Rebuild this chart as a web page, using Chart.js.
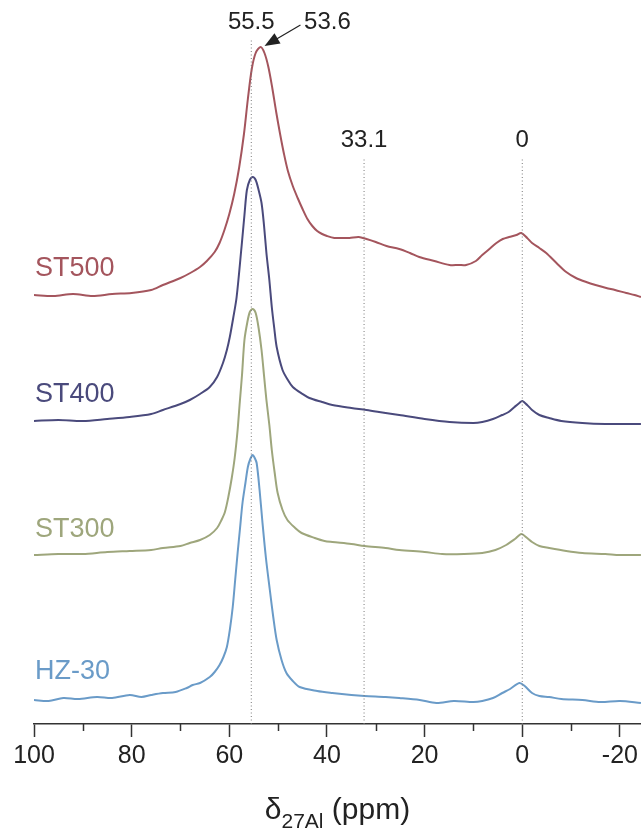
<!DOCTYPE html>
<html>
<head>
<meta charset="utf-8">
<script src="https://cdn.jsdelivr.net/npm/chart.js@4.4.1/dist/chart.umd.min.js"></script>
<style>
    html, body { margin: 0; padding: 0; background: #fff; }
    #wrap { width: 642px; height: 830px; position: relative; }
</style>
</head>
<body>
<div id="wrap"><canvas id="nmr"></canvas></div>
<script>
// ================= DATA =================
// chemical shift (ppm) and stacked intensity (arbitrary units, offsets included)

const st500Ppm = [100, 96, 92, 88, 84, 80, 76, 73.6, 70, 68, 66, 64.6, 63, 62, 61, 60, 59, 58, 57, 56.2, 55.4, 54.6, 53.6, 52.8, 52, 51.2, 50.4, 49.6, 48.8, 48, 47, 46, 45, 44, 43, 42, 41, 40, 38.5, 37, 35.4, 33.5, 31.9, 30, 27.8, 25.2, 23, 21.1, 18, 14.9, 13, 11.5, 9.5, 8.2, 6.5, 5.3, 4, 2.7, 1.2, 0.2, -1, -2, -3.5, -4.9, -7, -9, -11, -13.1, -15, -17.2, -19, -21.3, -23, -24.3];
const st500Val = [429, 428, 430, 428, 430, 431, 434, 439, 446, 451, 457, 463, 472, 481, 494, 510, 530, 556, 590, 625, 655, 671, 677, 671, 657, 636, 612, 590, 570, 553, 538, 526, 515, 505, 498, 493, 490, 488, 486, 486, 486, 487, 485, 482, 478, 475, 471, 467, 463, 459, 459, 459, 463, 469, 476, 481, 485, 487, 489, 491, 486, 481, 476, 471, 461, 452, 446, 442, 439, 436, 434, 431, 429, 427];

const st400Ppm = [100, 95, 90, 85, 80.4, 76, 73.6, 70, 68.1, 66, 64, 62.5, 61.3, 60.5, 59.9, 59.2, 58.5, 57.5, 56.9, 56.4, 55.8, 55.2, 54.6, 54, 53.4, 52.9, 52.4, 51.8, 51.3, 50.8, 50.3, 49.1, 48, 47, 45, 43.6, 41, 38.9, 35, 31.9, 28, 25.2, 20, 14.9, 10, 8.2, 6, 4.1, 2.8, 1.6, 0.6, 0, -1, -2, -3.5, -5.5, -8, -12.3, -17, -22.5, -24.3];
const st400Val = [303, 304, 303, 305, 307, 310, 314, 320, 324, 330, 337, 347, 361, 374, 387, 406, 427, 477, 509, 534, 544, 547, 544, 534, 521, 499, 471, 444, 417, 396, 377, 354, 344, 337, 330, 326, 322, 319, 316, 314, 311, 309, 305, 302, 301, 302, 305, 309, 312, 317, 321, 323, 319, 314, 309, 306, 303, 301, 300, 300, 300];

const st300Ppm = [100, 95, 90, 85, 80.4, 76, 73.6, 70, 68.1, 66, 64, 62.5, 61.6, 60.9, 60.2, 59.5, 58.9, 58.3, 57.9, 57.4, 56.9, 56.3, 55.8, 55.2, 54.6, 54, 53.4, 52.9, 52.4, 51.8, 51.3, 50.7, 50.1, 49.1, 48.1, 46.5, 45.2, 42.5, 40.5, 38.9, 35, 32.3, 28, 25.2, 20, 16.4, 12, 8.2, 5.5, 3.3, 1.5, 0.2, -1, -2, -3.5, -5.5, -9, -12.3, -17, -20, -24.3];
const st300Val = [169, 170, 170, 172, 173, 174, 176, 178, 181, 184, 189, 196, 204, 212, 227, 246, 266, 294, 319, 349, 384, 402, 412, 415, 411, 396, 374, 349, 324, 299, 274, 251, 231, 214, 204, 196, 191, 186, 183, 182, 180, 178, 176, 174, 172, 170, 170, 171, 174, 179, 185, 190, 186, 182, 178, 176, 173, 171, 170, 169, 169];

const hz30Ppm = [100, 97, 94, 91, 87.1, 84, 80.4, 78, 76, 73.6, 71, 68.7, 67.5, 66, 64, 63, 62, 61.2, 60.5, 59.9, 59.3, 58.8, 58.3, 57.8, 57.3, 56.7, 56.2, 55.7, 55.2, 54.8, 54.4, 53.8, 53.2, 52.5, 51.7, 51, 50.3, 49.3, 48.3, 47, 45.6, 42, 38.9, 35, 32.3, 28, 25.2, 21, 17.6, 14, 10, 8.2, 6, 4.1, 2.5, 0.6, -0.5, -2, -3.5, -5.5, -8, -12.3, -16, -20, -24.3];
const hz30Val = [24, 23, 26, 25, 27, 26, 29, 27, 29, 31, 32, 36, 39, 41, 47, 52, 59, 67, 77, 94, 117, 144, 171, 196, 221, 241, 257, 265, 269, 266, 261, 234, 201, 166, 134, 107, 84, 64, 51, 43, 37, 33, 31, 29, 28, 27, 26, 24, 21, 23, 22, 23, 26, 31, 35, 41, 38, 31, 28, 27, 25, 24, 22, 23, 21];

const seriesNames  = ["ST500", "ST400", "ST300", "HZ-30"];
const seriesColors = ["#a4555d", "#4a4a7c", "#9ea67c", "#6a9bc8"];
const nameLevels   = [455, 329, 194, 52];

// dotted reference lines: label, position (ppm), top of line (intensity units)
const refLabels = ["55.5", "33.1", "0"];
const refPpm    = [55.5, 32.4, 0];
const refTop    = [684, 566, 566];

const xTicks = [100, 80, 60, 40, 20, 0, -20];

// ================= HELPERS =================

function pts(xs, ys)
{
    return xs.map((x, i) => ({ x: x, y: ys[i] }));
}

const FONT = "'Liberation Sans', Arial, sans-serif";

const datasets = [];

refPpm.forEach((p, i) => {
    datasets.push({
        data: [{ x: p, y: 0 }, { x: p, y: refTop[i] }],
        borderColor: "#7a7a7a",
        borderWidth: 1,
        borderDash: [1, 2.5],
        pointRadius: 0
    });
});

[[st500Ppm, st500Val], [st400Ppm, st400Val], [st300Ppm, st300Val], [hz30Ppm, hz30Val]].forEach((s, i) => {
    datasets.push({
        label: seriesNames[i],
        data: pts(s[0], s[1]),
        borderColor: seriesColors[i],
        borderWidth: 2,
        pointRadius: 0,
        tension: 0.3
    });
});

// ================= ANNOTATIONS =================

const extras = {
    id: "extras",
    afterDraw(chart)
    {
        const ctx = chart.ctx;
        const sx = chart.scales.x;
        const sy = chart.scales.y;
        const axisY = chart.chartArea.bottom;

        ctx.save();

        // minor ticks
        ctx.strokeStyle = "#333";
        ctx.lineWidth = 1.5;
        for (let v = 90; v >= -20; v -= 20)
        {
            const px = Math.round(sx.getPixelForValue(v)) + 0.5;
            ctx.beginPath();
            ctx.moveTo(px, axisY);
            ctx.lineTo(px, axisY + 7);
            ctx.stroke();
        }

        // series names
        ctx.font = "27px " + FONT;
        ctx.textBaseline = "middle";
        ctx.textAlign = "left";
        seriesNames.forEach((n, i) => {
            ctx.fillStyle = seriesColors[i];
            ctx.fillText(n, sx.getPixelForValue(100) + 1, sy.getPixelForValue(nameLevels[i]));
        });

        // reference labels
        ctx.fillStyle = "#222";
        ctx.font = "24px " + FONT;
        ctx.textAlign = "center";
        refLabels.forEach((t, i) => {
            const px = sx.getPixelForValue(refPpm[i]);
            const py = sy.getPixelForValue(refTop[i]) - 18;
            ctx.fillText(t, px, py);
        });

        // 53.6 label with arrow to the ST500 maximum
        const peakX = sx.getPixelForValue(53.6);
        const peakY = sy.getPixelForValue(677);
        const labX = sx.getPixelForValue(39.9);
        const labY = sy.getPixelForValue(refTop[0]) - 18;
        ctx.fillText("53.6", labX, labY);

        const tipX = peakX + 4, tipY = peakY - 1;
        const tailX = labX - 27, tailY = labY + 3;
        const ang = Math.atan2(tipY - tailY, tipX - tailX);
        ctx.strokeStyle = "#222";
        ctx.lineWidth = 1.2;
        ctx.beginPath();
        ctx.moveTo(tailX, tailY);
        ctx.lineTo(tipX - 10 * Math.cos(ang), tipY - 10 * Math.sin(ang));
        ctx.stroke();
        ctx.beginPath();
        ctx.moveTo(tipX, tipY);
        ctx.lineTo(tipX - 15 * Math.cos(ang) + 6 * Math.sin(ang), tipY - 15 * Math.sin(ang) - 6 * Math.cos(ang));
        ctx.lineTo(tipX - 15 * Math.cos(ang) - 6 * Math.sin(ang), tipY - 15 * Math.sin(ang) + 6 * Math.cos(ang));
        ctx.closePath();
        ctx.fill();

        // axis title with subscript
        const cx = (chart.chartArea.left + chart.chartArea.right) / 2;
        ctx.textAlign = "left";
        ctx.textBaseline = "alphabetic";
        ctx.font = "30px " + FONT;
        const wD = ctx.measureText("\u03b4").width;
        const wP = ctx.measureText(" (ppm)").width;
        ctx.font = "21px " + FONT;
        const wS = ctx.measureText("27Al").width;
        let x0 = cx - (wD + wS + wP) / 2;
        ctx.font = "30px " + FONT;
        ctx.fillText("\u03b4", x0, 819);
        ctx.font = "21px " + FONT;
        ctx.fillText("27Al", x0 + wD, 828);
        ctx.font = "30px " + FONT;
        ctx.fillText(" (ppm)", x0 + wD + wS, 819);

        ctx.restore();
    }
};

// ================= CHART =================

new Chart(document.getElementById("nmr"), {
    type: "line",
    data: { datasets: datasets },
    options: {
        responsive: true,
        maintainAspectRatio: false,
        animation: false,
        layout: { padding: { left: 34, right: 0, top: 0, bottom: 0 } },
        plugins: {
            legend: { display: false },
            tooltip: { enabled: false }
        },
        scales: {
            x: {
                type: "linear",
                reverse: true,
                min: -24.3,
                max: 100,
                afterFit: (axis) => { axis.height = 106; },
                afterBuildTicks: (axis) => { axis.ticks = xTicks.map(v => ({ value: v })); },
                border: { display: true, color: "#333", width: 1.5 },
                grid: { drawOnChartArea: false, tickLength: 13, tickColor: "#333", tickWidth: 1.5 },
                ticks: {
                    color: "#222",
                    font: { size: 25, family: FONT },
                    padding: 4,
                    maxRotation: 0,
                    autoSkip: false
                }
            },
            y: {
                display: false,
                min: 0,
                max: 724
            }
        }
    },
    plugins: [extras]
});
</script>
</body>
</html>
